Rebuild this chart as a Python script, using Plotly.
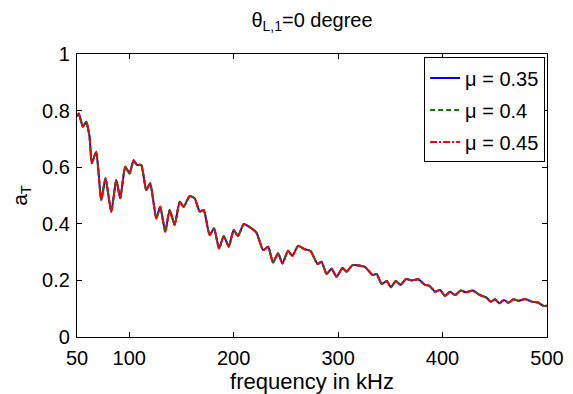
import plotly.graph_objects as go

freq_khz = [50, 51.7, 55.6, 58.8, 62, 64.2, 68.4, 73.2, 77.3, 82.8, 87.6, 91.4, 96.2, 100.3, 104.2,
            107.3, 111.5, 116.3, 120.1, 125.9, 129.7, 134.5, 138.7, 143.5, 148.3, 152.1, 157.9, 162.7,
            167.5, 171.3, 177, 181.2, 186, 190.5, 195.3, 200, 204.2, 209.6, 215.4, 221.8, 228.2, 233,
            237.7, 242.5, 246.7, 252.1, 256.2, 261.7, 268.1, 273.6, 280.3, 284.1, 288.9, 293.7, 298.5,
            304.3, 308.1, 313.9, 325.6, 333, 336.9, 341.7, 346.5, 350.6, 355.1, 359.9, 365, 370.4,
            376.8, 383.2, 387.4, 392.8, 397.6, 402.4, 407.2, 412, 417.4, 422.5, 428.9, 435.9, 441.7,
            446.2, 450.3, 454.4, 458.9, 463.1, 467.9, 472.7, 479.1, 485.5, 491.8, 496.6, 500]

a_T_base = [0.78, 0.790, 0.743, 0.761, 0.708, 0.614, 0.655, 0.484, 0.561, 0.443, 0.555, 0.490, 0.602,
            0.578, 0.625, 0.608, 0.608, 0.519, 0.543, 0.419, 0.460, 0.372, 0.449, 0.396, 0.478, 0.460,
            0.498, 0.490, 0.443, 0.449, 0.360, 0.384, 0.313, 0.357, 0.319, 0.378, 0.357, 0.399, 0.388,
            0.369, 0.307, 0.319, 0.263, 0.296, 0.260, 0.305, 0.286, 0.322, 0.310, 0.304, 0.258, 0.266,
            0.223, 0.241, 0.213, 0.244, 0.231, 0.254, 0.248, 0.219, 0.223, 0.187, 0.198, 0.176, 0.198,
            0.184, 0.205, 0.200, 0.204, 0.184, 0.181, 0.160, 0.166, 0.145, 0.160, 0.148, 0.164, 0.158,
            0.164, 0.148, 0.140, 0.125, 0.133, 0.119, 0.131, 0.121, 0.133, 0.128, 0.134, 0.125, 0.121,
            0.110, 0.110]

# The three curves are visually indistinguishable in the reference
a_T_mu035 = list(a_T_base)
a_T_mu040 = list(a_T_base)
a_T_mu045 = list(a_T_base)

series_names = ["\u03bc = 0.35", "\u03bc = 0.4", "\u03bc = 0.45"]
x_ticks = [50, 100, 200, 300, 400, 500]
y_ticks = [0, 0.2, 0.4, 0.6, 0.8, 1]
y_tick_text = ["0", "0.2", "0.4", "0.6", "0.8", "1"]

FONT = "Liberation Sans, Arial, sans-serif"
PAGE_OFF = 8  # default body margin of the html page
W, H = 573 - PAGE_OFF, 394 - PAGE_OFF

fig = go.Figure()
styles = [("rgb(0,0,255)", "solid"), ("rgb(0,128,0)", "5px,3px"), ("rgb(255,0,0)", "7px,2px,2px,2px")]
for i, (name, ys, (col, dash)) in enumerate(zip(series_names, [a_T_mu035, a_T_mu040, a_T_mu045], styles)):
    fig.add_trace(go.Scatter(x=freq_khz, y=ys, mode="lines", name=name, legendgroup=f"g{i}",
                             line=dict(color=col, dash=dash, width=2, shape="spline", smoothing=0.5)))

axis_common = dict(showline=True, linecolor="black", linewidth=1.3, mirror="ticks",
                   ticks="inside", ticklen=5, tickcolor="black", tickwidth=1.3,
                   showgrid=False, zeroline=False, automargin=False,
                   tickfont=dict(family=FONT, size=20, color="black"))

fig.update_layout(
    width=W, height=H,
    margin=dict(l=77 - PAGE_OFF, r=26, t=54 - PAGE_OFF, b=57, autoexpand=False),
    paper_bgcolor="white", plot_bgcolor="white",
    font=dict(family=FONT, size=20, color="black"),
    title=dict(text="\u03b8<sub>L,1</sub>=0 degree", x=0.5, xref="paper",
               xanchor="center", y=1 - 12 / H, yref="container", yanchor="middle",
               font=dict(family=FONT, size=20, color="black")),
    xaxis=dict(range=[50, 500], tickvals=x_ticks, ticktext=[str(v) for v in x_ticks],
               ticklabelstandoff=3,
               title=dict(text="frequency in kHz", standoff=0,
                          font=dict(family=FONT, size=22, color="black")),
               **axis_common),
    yaxis=dict(range=[0, 1], tickvals=y_ticks, ticktext=y_tick_text,
               ticklabelstandoff=2,
               title=dict(text="a<sub>T</sub>", standoff=12,
                          font=dict(family=FONT, size=21, color="black")),
               **axis_common),
    legend=dict(x=0.996, y=0.988, xanchor="right", yanchor="top",
                bordercolor="black", borderwidth=1, bgcolor="white",
                font=dict(family=FONT, size=20, color="black"),
                tracegroupgap=3, itemwidth=30),
    showlegend=True,
)

fig.write_html("out.html")
